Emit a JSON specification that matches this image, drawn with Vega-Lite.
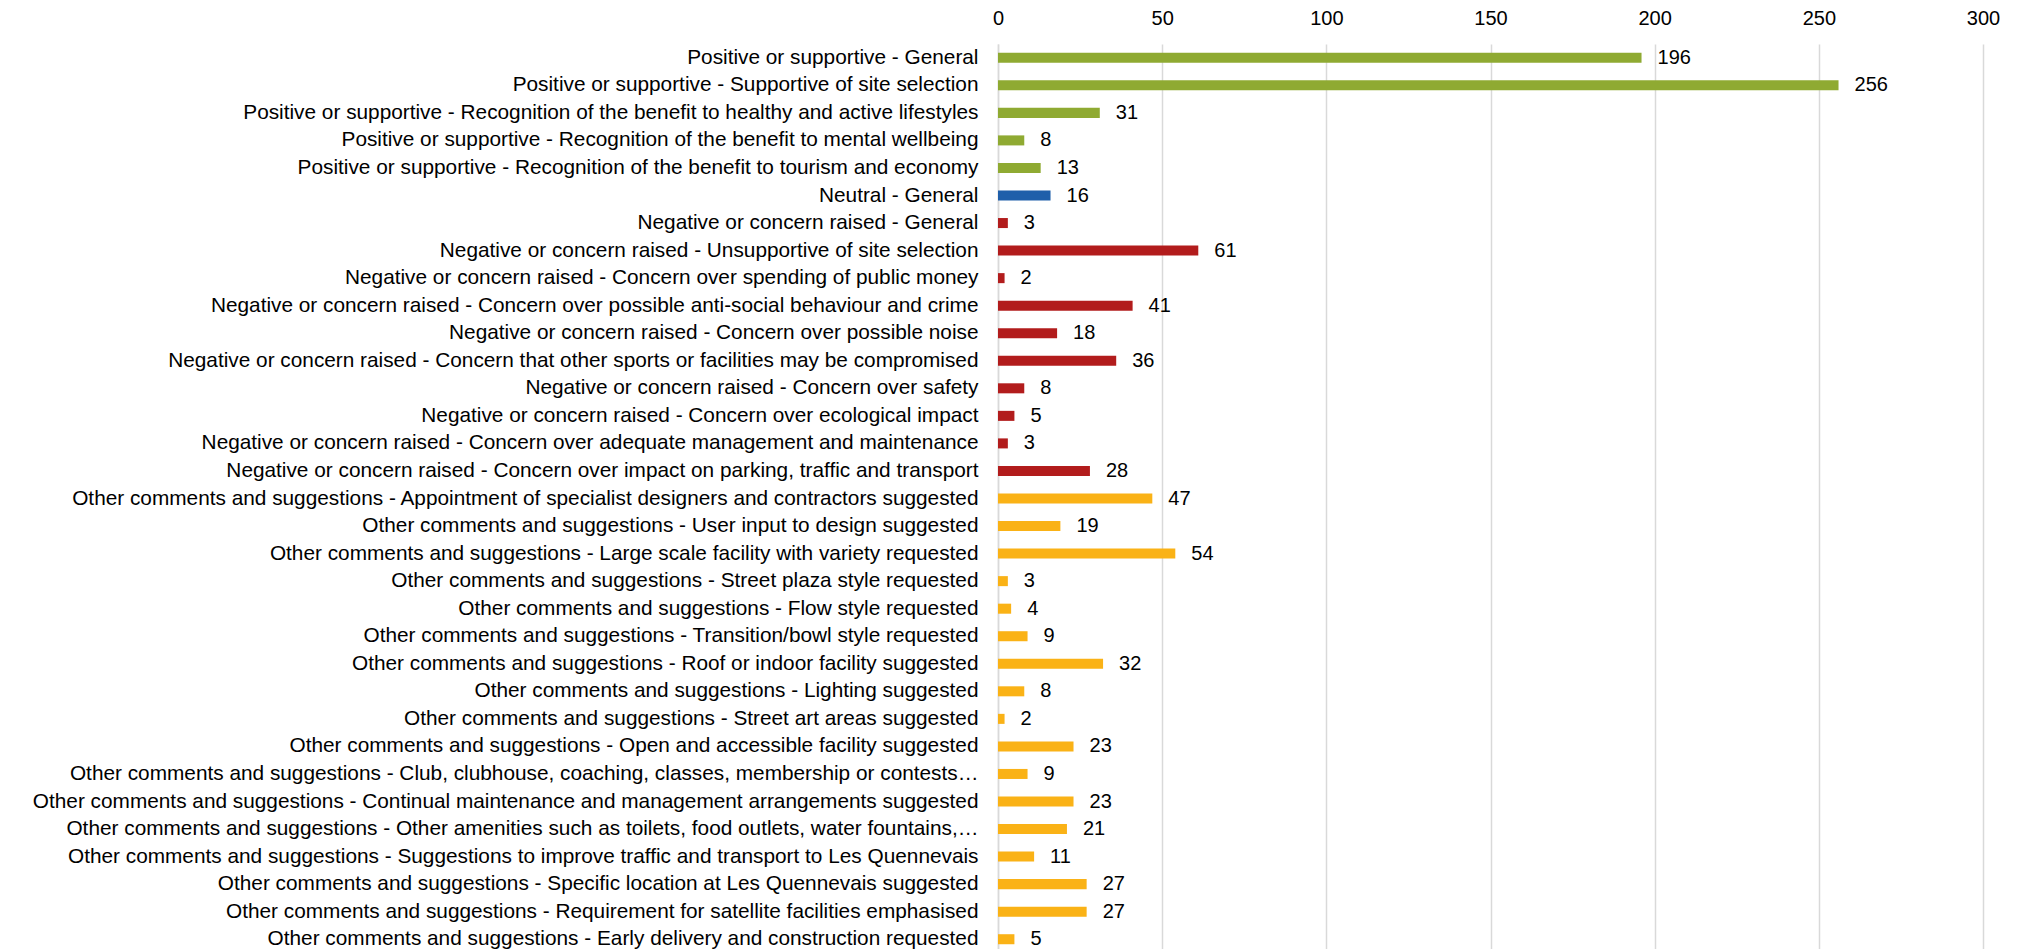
{
  "$schema": "https://vega.github.io/schema/vega-lite/v6.json",
  "autosize": "none",
  "padding": {"left": 998, "top": 44, "right": 41, "bottom": -4},
  "width": 985,
  "height": 909,
  "background": "white",
  "config": {"view": {"stroke": null}, "font": "Liberation Sans"},
  "data": {"values": [
    {"label": "Positive or supportive - General", "value": 196, "group": "Positive"},
    {"label": "Positive or supportive - Supportive of site selection", "value": 256, "group": "Positive"},
    {"label": "Positive or supportive - Recognition of the benefit to healthy and active lifestyles", "value": 31, "group": "Positive"},
    {"label": "Positive or supportive - Recognition of the benefit to mental wellbeing", "value": 8, "group": "Positive"},
    {"label": "Positive or supportive - Recognition of the benefit to tourism and economy", "value": 13, "group": "Positive"},
    {"label": "Neutral - General", "value": 16, "group": "Neutral"},
    {"label": "Negative or concern raised - General", "value": 3, "group": "Negative"},
    {"label": "Negative or concern raised - Unsupportive of site selection", "value": 61, "group": "Negative"},
    {"label": "Negative or concern raised - Concern over spending of public money", "value": 2, "group": "Negative"},
    {"label": "Negative or concern raised - Concern over possible anti-social behaviour and crime", "value": 41, "group": "Negative"},
    {"label": "Negative or concern raised - Concern over possible noise", "value": 18, "group": "Negative"},
    {"label": "Negative or concern raised - Concern that other sports or facilities may be compromised", "value": 36, "group": "Negative"},
    {"label": "Negative or concern raised - Concern over safety", "value": 8, "group": "Negative"},
    {"label": "Negative or concern raised - Concern over ecological impact", "value": 5, "group": "Negative"},
    {"label": "Negative or concern raised - Concern over adequate management and maintenance", "value": 3, "group": "Negative"},
    {"label": "Negative or concern raised - Concern over impact on parking, traffic and transport", "value": 28, "group": "Negative"},
    {"label": "Other comments and suggestions - Appointment of specialist designers and contractors suggested", "value": 47, "group": "Other"},
    {"label": "Other comments and suggestions - User input to design suggested", "value": 19, "group": "Other"},
    {"label": "Other comments and suggestions - Large scale facility with variety requested", "value": 54, "group": "Other"},
    {"label": "Other comments and suggestions - Street plaza style requested", "value": 3, "group": "Other"},
    {"label": "Other comments and suggestions - Flow style requested", "value": 4, "group": "Other"},
    {"label": "Other comments and suggestions - Transition/bowl style requested", "value": 9, "group": "Other"},
    {"label": "Other comments and suggestions - Roof or indoor facility suggested", "value": 32, "group": "Other"},
    {"label": "Other comments and suggestions - Lighting suggested", "value": 8, "group": "Other"},
    {"label": "Other comments and suggestions - Street art areas suggested", "value": 2, "group": "Other"},
    {"label": "Other comments and suggestions - Open and accessible facility suggested", "value": 23, "group": "Other"},
    {"label": "Other comments and suggestions - Club, clubhouse, coaching, classes, membership or contests…", "value": 9, "group": "Other"},
    {"label": "Other comments and suggestions - Continual maintenance and management arrangements suggested", "value": 23, "group": "Other"},
    {"label": "Other comments and suggestions - Other amenities such as toilets, food outlets, water fountains,…", "value": 21, "group": "Other"},
    {"label": "Other comments and suggestions - Suggestions to improve traffic and transport to Les Quennevais", "value": 11, "group": "Other"},
    {"label": "Other comments and suggestions - Specific location at Les Quennevais suggested", "value": 27, "group": "Other"},
    {"label": "Other comments and suggestions - Requirement for satellite facilities emphasised", "value": 27, "group": "Other"},
    {"label": "Other comments and suggestions - Early delivery and construction requested", "value": 5, "group": "Other"}
  ]},
  "encoding": {
    "y": {
      "field": "label", "type": "nominal", "sort": null,
      "scale": {"paddingInner": 0.636, "paddingOuter": 0.318},
      "axis": {
        "title": null, "ticks": false, "labelPadding": 20, "labelLimit": 0,
        "labelFontSize": 20.8, "labelColor": "#000000", "labelFont": "Liberation Sans",
        "domainColor": "#d9d9d9", "domainWidth": 1.5, "grid": false
      }
    },
    "x": {
      "field": "value", "type": "quantitative",
      "scale": {"domain": [0, 300], "nice": false},
      "axis": {
        "orient": "top", "title": null, "values": [0, 50, 100, 150, 200, 250, 300],
        "ticks": false, "domain": false, "labelPadding": 16, "labelFlush": false,
        "labelFontSize": 20, "labelColor": "#000000", "labelFont": "Liberation Sans",
        "gridColor": "#d9d9d9", "gridWidth": 1.5
      }
    }
  },
  "layer": [
    {
      "mark": {"type": "bar"},
      "encoding": {
        "color": {
          "field": "group", "type": "nominal", "legend": null,
          "scale": {"domain": ["Positive", "Neutral", "Negative", "Other"],
                    "range": ["#8FAA32", "#1F5FAA", "#B21C1C", "#FAB216"]}
        }
      }
    },
    {
      "mark": {"type": "text", "align": "left", "baseline": "middle", "dx": 16, "fontSize": 20, "font": "Liberation Sans", "color": "#000000"},
      "encoding": {"text": {"field": "value", "type": "quantitative"}}
    }
  ]
}
